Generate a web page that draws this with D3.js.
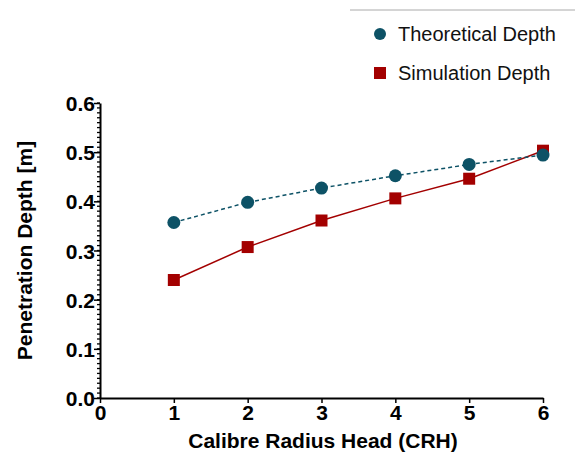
<!DOCTYPE html>
<html>
<head>
<meta charset="utf-8">
<script src="https://d3js.org/d3.v7.min.js"></script>
<style>
  body { margin: 0; background: #fff; }
  text { font-family: "Liberation Sans", Arial, sans-serif; }
  .axis path, .axis line { stroke: #000; }
</style>
</head>
<body>
<svg id="chart" width="575" height="458"></svg>
<script>
// data
const crh = [1, 2, 3, 4, 5, 6];
const theoretical = [0.357, 0.398, 0.427, 0.452, 0.475, 0.494];
const simulation = [0.240, 0.307, 0.361, 0.406, 0.446, 0.503];
const xTicks = [0, 1, 2, 3, 4, 5, 6];
const yTicks = [0, 0.1, 0.2, 0.3, 0.4, 0.5, 0.6];
const seriesNames = ["Theoretical Depth", "Simulation Depth"];

const svg = d3.select("#chart");
const margin = { left: 100, top: 103, right: 32, bottom: 60 };
const x = d3.scaleLinear().domain([0, 6]).range([margin.left, 543]);
const y = d3.scaleLinear().domain([0, 0.6]).range([398, margin.top]);

const teal = "#0d5266";
const red = "#a30000";

// y axis minor ticks
const minor = d3.range(0, 0.6001, 0.01);
svg.append("g")
  .attr("transform", `translate(${margin.left},0)`)
  .selectAll("line").data(minor).join("line")
  .attr("x1", -3).attr("x2", 0)
  .attr("y1", d => y(d)).attr("y2", d => y(d))
  .attr("stroke", "#000").attr("stroke-width", 1.3);

const yAxis = svg.append("g").attr("class", "axis")
  .attr("transform", `translate(${margin.left},0)`)
  .call(d3.axisLeft(y).tickValues(yTicks).tickFormat(d3.format(".1f")).tickSize(6).tickSizeOuter(0));
yAxis.attr("font-size", null).attr("font-family", null);
yAxis.select(".domain").attr("stroke-width", 2);
yAxis.selectAll(".tick line").attr("stroke-width", 1.5);
yAxis.selectAll(".tick text").attr("x", -5).attr("dy", "0.36em")
  .style("font-size", "21px").style("font-weight", "bold").attr("fill", "#000");

const xAxis = svg.append("g").attr("class", "axis")
  .attr("transform", `translate(0,${y(0)})`)
  .call(d3.axisBottom(x).tickValues(xTicks).tickFormat(d3.format("d")).tickSize(5).tickSizeOuter(0));
xAxis.attr("font-size", null).attr("font-family", null);
xAxis.select(".domain").attr("stroke-width", 2);
xAxis.selectAll(".tick line").attr("stroke-width", 1.5);
xAxis.selectAll(".tick text").attr("y", 7)
  .style("font-size", "21px").style("font-weight", "bold").attr("fill", "#000");

// axis titles
svg.append("text")
  .attr("x", 323).attr("y", 448)
  .attr("text-anchor", "middle")
  .attr("font-weight", "bold").attr("font-size", 21)
  .text("Calibre Radius Head (CRH)");

svg.append("text")
  .attr("transform", `translate(32,${y(0.3)}) rotate(-90)`)
  .attr("text-anchor", "middle")
  .attr("font-weight", "bold").attr("font-size", 21)
  .text("Penetration Depth [m]");

const line = d3.line().x((d, i) => x(crh[i])).y(d => y(d));

// simulation series
svg.append("path").datum(simulation)
  .attr("d", line).attr("fill", "none")
  .attr("stroke", red).attr("stroke-width", 1.5);
svg.selectAll("rect.sim").data(simulation).join("rect")
  .attr("class", "sim")
  .attr("x", (d, i) => x(crh[i]) - 6).attr("y", d => y(d) - 6)
  .attr("width", 12).attr("height", 12)
  .attr("fill", red);

// theoretical series
svg.append("path").datum(theoretical)
  .attr("d", line).attr("fill", "none")
  .attr("stroke", teal).attr("stroke-width", 1.5)
  .attr("stroke-dasharray", "4,3");
svg.selectAll("circle.theo").data(theoretical).join("circle")
  .attr("class", "theo")
  .attr("cx", (d, i) => x(crh[i])).attr("cy", d => y(d))
  .attr("r", 6.5).attr("fill", teal);

// legend
svg.append("line")
  .attr("x1", 350).attr("x2", 575).attr("y1", 10).attr("y2", 10)
  .attr("stroke", "#aaa").attr("stroke-width", 1);
const legend = svg.append("g");
legend.append("circle").attr("cx", 380).attr("cy", 34).attr("r", 6).attr("fill", teal);
legend.append("rect").attr("x", 374).attr("y", 67).attr("width", 12).attr("height", 12).attr("fill", red);
legend.selectAll("text").data(seriesNames).join("text")
  .attr("x", 398).attr("y", (d, i) => 41 + i * 39)
  .attr("font-size", 20).attr("fill", "#111")
  .text(d => d);
</script>
</body>
</html>
